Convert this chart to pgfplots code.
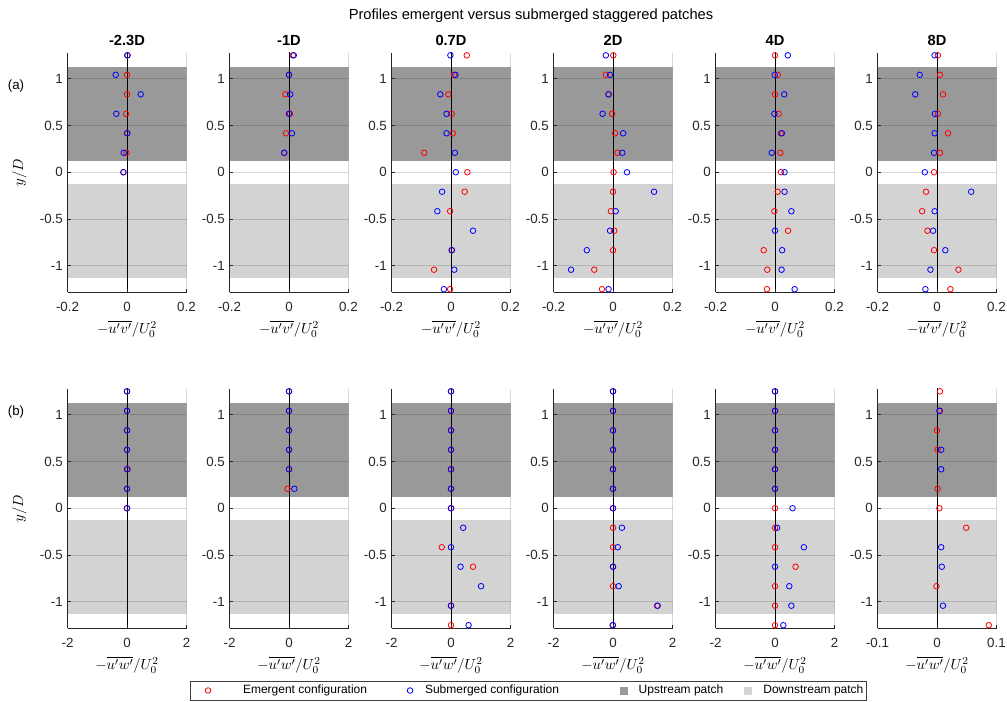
\documentclass[border=0pt]{standalone}
\usepackage{pgfplots}
\pgfplotsset{compat=1.18}
\usepackage{fontspec}
\setmainfont{Liberation Sans}
\definecolor{darkp}{RGB}{153,153,153}
\definecolor{lightp}{RGB}{211,211,211}
\definecolor{axgray}{RGB}{38,38,38}
\definecolor{mred}{RGB}{255,0,0}
\definecolor{mblue}{RGB}{0,0,255}
\pgfplotsset{
  panel/.style={
    scale only axis, width=89.25pt, height=179.6pt,
    anchor=south west,
    ymin=-1.28, ymax=1.28,
    ytick={-1,-0.5,0,0.5,1}, yticklabels={-1,-0.5,0,0.5,1},
    axis x line*=bottom, axis y line*=left,
    axis line style={axgray, line width=0.5pt},
    tick style={axgray, line width=0.5pt},
    tick align=inside, major tick length=2.5pt,
    grid=major, grid style={black, opacity=0.15, line width=0.5pt},
    axis on top,
    ticklabel style={font=\fontsize{10}{12}\selectfont, text=axgray},
    xticklabel style={yshift=-4pt},
    title style={font=\bfseries\fontsize{11}{13}\selectfont, text=black, yshift=-4.5pt},
    label style={font=\fontsize{11}{13}\selectfont},
    xlabel style={yshift=0pt},
    ylabel style={yshift=3pt},
  },
  rowa/.style={panel, xmin=-0.2, xmax=0.2, xtick={-0.2,0,0.2}, xticklabels={-0.2,0,0.2},
    xlabel={$-\overline{u'v'}/U_0^2$}},
  rowb/.style={panel, xmin=-2, xmax=2, xtick={-2,0,2}, xticklabels={-2,0,2},
    xlabel={$-\overline{u'w'}/U_0^2$}},
  rowbb/.style={panel, xmin=-0.1, xmax=0.1, xtick={-0.1,0,0.1}, xticklabels={-0.1,0,0.1},
    xlabel={$-\overline{u'w'}/U_0^2$}},
  emer/.style={only marks, mark=o, mark size=2.1pt, mred, mark options={line width=0.6pt}},
  subm/.style={only marks, mark=o, mark size=2.1pt, mblue, mark options={line width=0.6pt}},
}
\newcommand\patches[2]{%
  \addplot[draw=none, fill=darkp] coordinates {(#1,0.125) (#2,0.125) (#2,1.125) (#1,1.125)} -- cycle;
  \addplot[draw=none, fill=lightp] coordinates {(#1,-1.125) (#2,-1.125) (#2,-0.125) (#1,-0.125)} -- cycle;
  \addplot[black, line width=0.5pt] coordinates {(0,-1.3) (0,1.3)};
}
\begin{document}
\begin{tikzpicture}
\path[use as bounding box] (0,0) rectangle (755.25pt,-526.5pt);

% ---------------- Row (a) ----------------
\begin{axis}[rowa, at={(50.625pt,-219pt)}, title={-2.3D}, ylabel={$y/D$}]
\patches{-0.2}{0.2}
\addplot[emer] coordinates {(0.002,1.25) (0,1.0417) (0,0.8333) (-0.003,0.625) (0,0.4167) (-0.002,0.2083) (-0.012,0)};
\addplot[subm] coordinates {(0.001,1.25) (-0.038,1.0417) (0.046,0.8333) (-0.036,0.625) (0.001,0.4167) (-0.011,0.2083) (-0.012,0)};
\end{axis}

\begin{axis}[rowa, at={(172.125pt,-219pt)}, title={-1D}]
\patches{-0.2}{0.2}
\addplot[emer] coordinates {(0.013,1.25) (0,1.0417) (-0.012,0.8333) (0.003,0.625) (-0.010,0.4167) (-0.016,0.2083)};
\addplot[subm] coordinates {(0.016,1.25) (0,1.0417) (0.004,0.8333) (0,0.625) (0.010,0.4167) (-0.016,0.2083)};
\end{axis}

\begin{axis}[rowa, at={(293.625pt,-219pt)}, title={0.7D}]
\patches{-0.2}{0.2}
\addplot[emer] coordinates {(0.053,1.25) (0.010,1.0417) (-0.009,0.8333) (0.002,0.625) (0.006,0.4167) (-0.090,0.2083) (0.055,0) (0.046,-0.2083) (-0.003,-0.4167) (0.002,-0.8333) (-0.057,-1.0417) (-0.003,-1.25)};
\addplot[subm] coordinates {(-0.002,1.25) (0.015,1.0417) (-0.036,0.8333) (-0.015,0.625) (-0.015,0.4167) (0.013,0.2083) (0.016,0) (-0.030,-0.2083) (-0.046,-0.4167) (0.074,-0.625) (0.003,-0.8333) (0.011,-1.0417) (-0.024,-1.25)};
\end{axis}

\begin{axis}[rowa, at={(415.125pt,-219pt)}, title={2D}]
\patches{-0.2}{0.2}
\addplot[emer] coordinates {(0.001,1.25) (-0.024,1.0417) (-0.015,0.8333) (-0.003,0.625) (0.007,0.4167) (0.015,0.2083) (0.002,0) (0,-0.2083) (-0.007,-0.4167) (0.004,-0.625) (0,-0.8333) (-0.063,-1.0417) (-0.037,-1.25)};
\addplot[subm] coordinates {(-0.024,1.25) (-0.010,1.0417) (-0.015,0.8333) (-0.035,0.625) (0.034,0.4167) (0.031,0.2083) (0.047,0) (0.138,-0.2083) (0.009,-0.4167) (-0.010,-0.625) (-0.088,-0.8333) (-0.141,-1.0417) (-0.015,-1.25)};
\end{axis}

\begin{axis}[rowa, at={(536.625pt,-219pt)}, title={4D}]
\patches{-0.2}{0.2}
\addplot[emer] coordinates {(0,1.25) (0.009,1.0417) (0,0.8333) (0.012,0.625) (0.020,0.4167) (0.018,0.2083) (0.020,0) (0.009,-0.2083) (-0.002,-0.4167) (0.044,-0.625) (-0.038,-0.8333) (-0.026,-1.0417) (-0.027,-1.25)};
\addplot[subm] coordinates {(0.043,1.25) (-0.001,1.0417) (0.031,0.8333) (-0.002,0.625) (0.023,0.4167) (-0.011,0.2083) (0.032,0) (0.032,-0.2083) (0.055,-0.4167) (0,-0.625) (0.024,-0.8333) (0.022,-1.0417) (0.066,-1.25)};
\end{axis}

\begin{axis}[rowa, at={(658.125pt,-219pt)}, title={8D}]
\patches{-0.2}{0.2}
\addplot[emer] coordinates {(0.003,1.25) (0.010,1.0417) (0.020,0.8333) (0.003,0.625) (0.037,0.4167) (0.010,0.2083) (-0.010,0) (-0.037,-0.2083) (-0.050,-0.4167) (-0.032,-0.625) (-0.010,-0.8333) (0.072,-1.0417) (0.045,-1.25)};
\addplot[subm] coordinates {(-0.008,1.25) (-0.058,1.0417) (-0.073,0.8333) (-0.007,0.625) (-0.008,0.4167) (-0.010,0.2083) (-0.041,0) (0.115,-0.2083) (-0.008,-0.4167) (-0.013,-0.625) (0.028,-0.8333) (-0.022,-1.0417) (-0.039,-1.25)};
\end{axis}

% ---------------- Row (b) ----------------
\begin{axis}[rowb, at={(50.625pt,-471pt)}, ylabel={$y/D$},
  legend columns=4,
  legend style={at={(axis description cs:3.87,-0.261)}, anchor=center,
    draw=black!75, line width=0.5pt, fill=white,
    font=\fontsize{9}{11}\selectfont, inner xsep=0pt, inner ysep=1pt,
    nodes={inner xsep=0pt, inner ysep=2pt},
    /tikz/column sep=0pt,
    /tikz/every odd column/.append style={column sep=0pt},
    /tikz/every even column/.append style={column sep=0pt}},
  legend cell align=left]
\addlegendimage{legend image code/.code={\path[draw=none,fill=none] (0pt,-2pt) rectangle (39.75pt,2pt); \draw[mred, line width=0.6pt, fill=none] (13.5pt,0pt) circle (2.1pt);}}
\addlegendentry{\makebox[114pt][l]{Emergent configuration}}
\addlegendimage{legend image code/.code={\path[draw=none,fill=none] (0pt,-2pt) rectangle (22.5pt,2pt); \draw[mblue, line width=0.6pt, fill=none] (11.25pt,0pt) circle (2.1pt);}}
\addlegendentry{\makebox[137.75pt][l]{Submerged configuration}}
\addlegendimage{legend image code/.code={\path[draw=none,fill=none] (0pt,-2pt) rectangle (22.5pt,2pt); \path[draw=none, fill=darkp] (8.25pt,-3pt) rectangle (14.25pt,3pt);}}
\addlegendentry{\makebox[71pt][l]{Upstream patch}}
\addlegendimage{legend image code/.code={\path[draw=none,fill=none] (0pt,-2pt) rectangle (22.5pt,2pt); \path[draw=none, fill=lightp] (8.25pt,-3pt) rectangle (14.25pt,3pt);}}
\addlegendentry{\makebox[77pt][l]{Downstream patch}}
\patches{-2}{2}
\addplot[emer] coordinates {(0,1.25) (0,1.0417) (0,0.8333) (0,0.625) (0.02,0.4167) (0,0.2083) (0,0)};
\addplot[subm] coordinates {(0,1.25) (0,1.0417) (0,0.8333) (0,0.625) (0,0.4167) (0,0.2083) (0,0)};
\end{axis}

\begin{axis}[rowb, at={(172.125pt,-471pt)}]
\patches{-2}{2}
\addplot[emer] coordinates {(0,1.25) (0,1.0417) (0,0.8333) (0,0.625) (0,0.4167) (-0.05,0.2083)};
\addplot[subm] coordinates {(0,1.25) (0,1.0417) (0,0.8333) (0,0.625) (0,0.4167) (0.18,0.2083)};
\end{axis}

\begin{axis}[rowb, at={(293.625pt,-471pt)}]
\patches{-2}{2}
\addplot[emer] coordinates {(0,1.25) (0,1.0417) (0,0.8333) (0,0.625) (0,0.4167) (0,0.2083) (0,0) (-0.31,-0.4167) (0.74,-0.625) (0,-1.0417) (0,-1.25)};
\addplot[subm] coordinates {(0,1.25) (0,1.0417) (0,0.8333) (0,0.625) (0,0.4167) (0,0.2083) (0,0) (0.41,-0.2083) (0,-0.4167) (0.32,-0.625) (1.01,-0.8333) (0,-1.0417) (0.59,-1.25)};
\end{axis}

\begin{axis}[rowb, at={(415.125pt,-471pt)}]
\patches{-2}{2}
\addplot[emer] coordinates {(0,1.25) (0,1.0417) (0,0.8333) (0,0.625) (0,0.4167) (0,0.2083) (0,0) (0,-0.2083) (0,-0.4167) (0,-0.625) (0,-0.8333) (1.48,-1.0417) (0,-1.25)};
\addplot[subm] coordinates {(0,1.25) (0,1.0417) (0,0.8333) (0,0.625) (0,0.4167) (0,0.2083) (0,0) (0.30,-0.2083) (0.16,-0.4167) (0,-0.625) (0.19,-0.8333) (1.50,-1.0417) (-0.01,-1.25)};
\end{axis}

\begin{axis}[rowb, at={(536.625pt,-471pt)}]
\patches{-2}{2}
\addplot[emer] coordinates {(0,1.25) (0,1.0417) (0,0.8333) (0,0.625) (0,0.4167) (0,0.2083) (0,0) (0,-0.2083) (0,-0.4167) (0.69,-0.625) (0,-0.8333) (0,-1.0417) (0,-1.25)};
\addplot[subm] coordinates {(0,1.25) (0,1.0417) (0,0.8333) (0,0.625) (0,0.4167) (0,0.2083) (0.59,0) (0.07,-0.2083) (0.97,-0.4167) (0,-0.625) (0.48,-0.8333) (0.55,-1.0417) (0.28,-1.25)};
\end{axis}

\begin{axis}[rowbb, at={(658.125pt,-471pt)}]
\patches{-0.1}{0.1}
\addplot[emer] coordinates {(0.005,1.25) (0.005,1.0417) (0,0.8333) (0.001,0.625) (0.001,0.2083) (0.004,0) (0.049,-0.2083) (-0.001,-0.8333) (0.087,-1.25)};
\addplot[subm] coordinates {(0.004,1.0417) (0.007,0.625) (0.007,0.4167) (0.007,-0.4167) (0.008,-0.625) (0.010,-1.0417)};
\end{axis}

% ---------------- Texts ----------------
\node[font=\fontsize{11}{13}\selectfont, text=black] at (398.25pt,-12pt) {Profiles emergent versus submerged staggered patches};
\node[font=\fontsize{10}{12}\selectfont] at (12pt,-64.5pt) {(a)};
\node[font=\fontsize{10}{12}\selectfont] at (12pt,-309pt) {(b)};
\end{tikzpicture}
\end{document}
